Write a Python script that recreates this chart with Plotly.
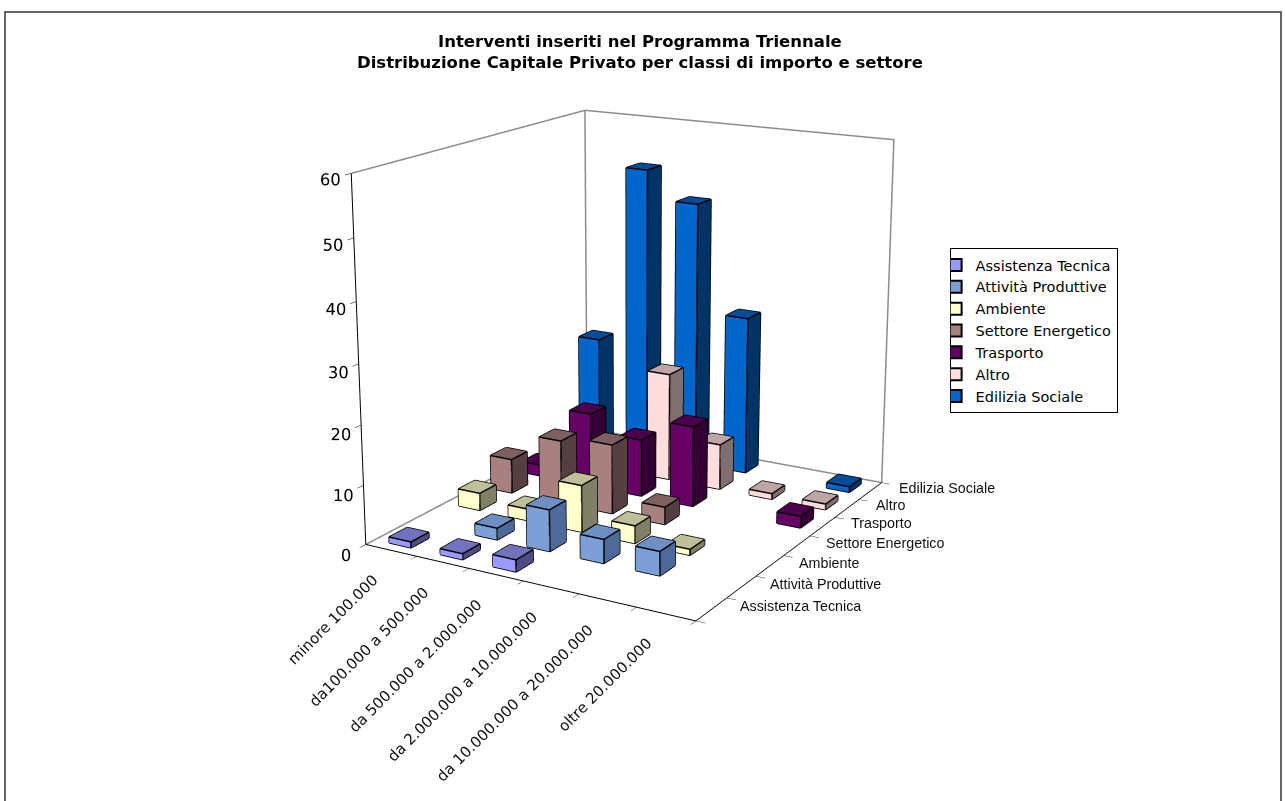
import plotly.graph_objects as go

classes = ["minore 100.000", "da100.000 a 500.000", "da 500.000 a 2.000.000",
           "da 2.000.000 a 10.000.000", "da 10.000.000 a 20.000.000", "oltre 20.000.000"]
sectors = ["Assistenza Tecnica", "Attività Produttive", "Ambiente", "Settore Energetico",
           "Trasporto", "Altro", "Edilizia Sociale"]
assistenza = [1, 1, 2, 0, 0, 0]
attivita = [0, 2, 7, 4, 4, 0]
ambiente = [3, 2, 8, 3, 1, 0]
energetico = [6, 11, 12, 3, 0, 0]
trasporto = [2, 13, 10, 14, 0, 2]
altro = [0, 0, 19, 8, 1, 1]
edilizia = [20, 52, 47, 28, 0, 1]
series = [assistenza, attivita, ambiente, energetico, trasporto, altro, edilizia]
front = ["#9999FF", "#7C9FD6", "#FFFFCC", "#A88080", "#660066", "#FFDDDD", "#0066CC"]
top = ["#7272BF", "#6E8FC4", "#BFBF99", "#7E6060", "#4C004C", "#BFA6A6", "#004C99"]
side = ["#4D4D80", "#4D6A9A", "#808066", "#544040", "#330033", "#806F6F", "#003366"]
zmax = 60
zticks = [0, 10, 20, 30, 40, 50, 60]
BAR_X = 0.43
BAR_Y = 0.5
H = 1657      # taller canvas gives the long-lens perspective of the original
T = 490       # part of the canvas scrolled above the window


def py(px):
    return 1 - (px + T) / H


def bar_mesh(values, row, fc, tc, sc):
    xs, ys, zs, i, j, k, colors, ex, ey, ez = [], [], [], [], [], [], [], [], [], []
    gx = (1 - BAR_X) / 2
    gy = (1 - BAR_Y) / 2
    for col, v in enumerate(values):
        if v <= 0:
            continue
        x0, x1, y0, y1 = col + gx, col + 1 - gx, row + gy, row + 1 - gy
        b = len(xs)
        for (a, c, d) in [(x0, y0, 0), (x1, y0, 0), (x1, y1, 0), (x0, y1, 0),
                          (x0, y0, v), (x1, y0, v), (x1, y1, v), (x0, y1, v)]:
            xs.append(a); ys.append(c); zs.append(d)
        quads = [((0, 1, 5, 4), fc), ((1, 2, 6, 5), sc), ((4, 5, 6, 7), tc),
                 ((3, 0, 4, 7), fc), ((2, 3, 7, 6), sc), ((0, 1, 2, 3), sc)]
        for q, col_ in quads:
            i += [b + q[0], b + q[0]]; j += [b + q[1], b + q[2]]; k += [b + q[2], b + q[3]]
            colors += [col_, col_]
        for p in [(0, 1), (1, 5), (5, 4), (4, 0), (1, 2), (2, 6), (6, 5), (4, 7), (7, 6)]:
            ex += [xs[b + p[0]], xs[b + p[1]], None]
            ey += [ys[b + p[0]], ys[b + p[1]], None]
            ez += [zs[b + p[0]], zs[b + p[1]], None]
    return xs, ys, zs, i, j, k, colors, ex, ey, ez


fig = go.Figure()
nx, ny = len(classes), len(sectors)
for r, (name, vals) in enumerate(zip(sectors, series)):
    xs, ys, zs, i, j, k, colors, ex, ey, ez = bar_mesh(vals, r, front[r], top[r], side[r])
    fig.add_trace(go.Mesh3d(x=xs, y=ys, z=zs, i=i, j=j, k=k, facecolor=colors, flatshading=True,
                            lighting=dict(ambient=1, diffuse=0, specular=0, fresnel=0),
                            hoverinfo="skip", showlegend=False))
    fig.add_trace(go.Scatter3d(x=ex, y=ey, z=ez, mode="lines", line=dict(color="black", width=3),
                               hoverinfo="skip", showlegend=False))
    fig.add_trace(go.Scatter3d(x=[None], y=[None], z=[None], mode="markers", name=name,
                               marker=dict(symbol="square", size=8, color=front[r],
                                           line=dict(color="black", width=1))))

# wall outline
wx = [0, 0, nx, nx, None, 0, nx]
wy = [0, ny, ny, ny, None, ny, ny]
wz = [zmax, zmax, zmax, 0, None, 0, 0]
fig.add_trace(go.Scatter3d(x=wx, y=wy, z=wz, mode="lines", line=dict(color="#8c8c8c", width=3),
                           hoverinfo="skip", showlegend=False))
fig.add_trace(go.Scatter3d(x=[0, 0], y=[0, ny], z=[0, 0], mode="lines",
                           line=dict(color="#8c8c8c", width=3), hoverinfo="skip", showlegend=False))
fig.add_trace(go.Scatter3d(x=[0, 0], y=[ny, ny], z=[0, zmax], mode="lines",
                           line=dict(color="#8c8c8c", width=3), hoverinfo="skip", showlegend=False))

axis = dict(showgrid=False, zeroline=False, showbackground=False, showline=True, linecolor="black",
            linewidth=2, ticks="outside", tickcolor="black", ticklen=8, title=dict(text=""), showspikes=False)
x_label_font = dict(size=15, family="DejaVu Sans", color="#111111")
y_label_font = dict(size=14.3, family="Liberation Sans", color="#111111")
annotations = []
for c, name in enumerate(classes):
    annotations.append(dict(x=c + 0.5, y=0, z=0, text=name, showarrow=False, textangle=-45,
                            xanchor="right", yanchor="top", xshift=-7, yshift=-18, font=x_label_font))
for r, name in enumerate(sectors):
    annotations.append(dict(x=nx, y=r + 0.5, z=0, text=name, showarrow=False,
                            xanchor="left", yanchor="middle", xshift=27, yshift=3, font=y_label_font))
fig.update_layout(
    width=1285, height=H, margin=dict(l=0, r=0, t=0, b=0), paper_bgcolor="white",
    font=dict(family="DejaVu Sans", color="black"),
    title=dict(text="<b>Interventi inseriti nel Programma Triennale<br>Distribuzione Capitale Privato per classi di importo e settore</b>",
               x=0.498, xanchor="center", y=py(47), yanchor="middle", font=dict(size=16.5, family="DejaVu Sans")),
    legend=dict(x=0.739, y=py(248), xanchor="left", yanchor="top", bordercolor="black", borderwidth=1,
                font=dict(size=14.5), itemsizing="constant", tracegroupgap=0, indentation=-15),
    scene=dict(
        domain=dict(x=[0.0045, 0.9825], y=[0.0, 1.0]),
        aspectmode="manual", aspectratio=dict(x=0.552, y=0.627, z=0.555),
        camera=dict(eye=dict(x=1.443, y=-2.499, z=0.816),
                    center=dict(x=0, y=0, z=0), up=dict(x=0, y=0, z=1)),
        xaxis=dict(axis, range=[0, nx], tickvals=list(range(nx + 1)), ticktext=[""] * (nx + 1)),
        yaxis=dict(axis, range=[0, ny], tickvals=list(range(ny + 1)), ticktext=[""] * (ny + 1)),
        zaxis=dict(axis, range=[0, zmax], tickvals=zticks, tickangle=0,
                   tickfont=dict(size=14, family="DejaVu Sans")),
        annotations=annotations,
    ),
    shapes=[dict(type="rect", xref="paper", yref="paper", x0=5 / 1285, x1=1281 / 1285, y0=py(830), y1=py(12),
                 line=dict(color="#333333", width=1.5))],
)
fig.write_html("out.html", config=dict(displayModeBar=False),
               post_script=f"document.documentElement.style.overflow='hidden';document.body.style.overflow='hidden';document.body.style.margin='-{T}px 0 0 0';")
